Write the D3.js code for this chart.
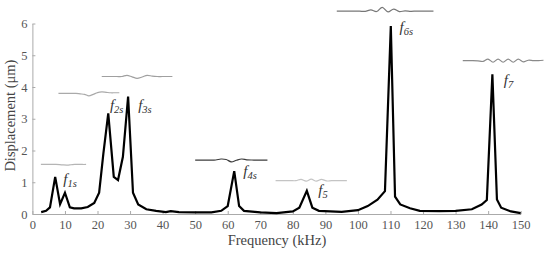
<!DOCTYPE html>
<html lang="en">
<head>
<meta charset="UTF-8">
<title>Displacement vs Frequency</title>
<script src="https://d3js.org/d3.v7.min.js"></script>
<style>
    body { margin: 0; background: #fff; }
    svg { display: block; }
    text { font-family: "Liberation Serif", "Times New Roman", serif; }
    .tick text { fill: #555; font-size: 12.5px; }
</style>
</head>
<body>
<svg width="550" height="255"></svg>
<script>
// frequency (kHz) and displacement (um)
const freq = [2.7, 4.2, 5.4, 7, 8.5, 10, 11.5, 12.8, 15, 17, 19, 20.5, 21.8, 23.3, 25, 26.3, 27.8, 29.4, 30.9, 32.5, 35, 38, 41, 42.5, 45, 50, 55, 58, 60, 62, 63.5, 65, 70, 75, 80, 82, 84.3, 86, 88, 95, 100, 103, 106, 108.3, 110.1, 111.4, 113, 116, 119, 125, 130, 135, 138, 139.6, 141.3, 142.7, 144, 147, 150];
const disp = [0.06, 0.1, 0.21, 1.17, 0.31, 0.67, 0.21, 0.18, 0.18, 0.22, 0.35, 0.67, 1.9, 3.17, 1.17, 1.07, 1.8, 3.7, 0.67, 0.3, 0.15, 0.1, 0.06, 0.09, 0.06, 0.05, 0.05, 0.1, 0.25, 1.35, 0.25, 0.1, 0.05, 0.03, 0.08, 0.2, 0.73, 0.2, 0.1, 0.07, 0.12, 0.25, 0.45, 0.72, 5.92, 0.55, 0.3, 0.18, 0.1, 0.09, 0.1, 0.15, 0.3, 0.44, 4.4, 0.46, 0.2, 0.08, 0.03];

const xTicks = d3.range(0, 151, 10);
const yTicks = [0, 1, 2, 3, 4, 5, 6];

// mode labels: name, subscript, anchor (kHz, um)
const modeNames = ["f", "f", "f", "f", "f", "f", "f"];
const modeSubs = ["1s", "2s", "3s", "4s", "5", "6s", "7"];
const modeLabelAt = [[9.5, 0.93], [23.8, 3.27], [32.5, 3.27], [64.8, 1.2], [87.8, 0.6], [112.8, 5.73], [144.8, 4.05]];

// mode-shape sketches: start/end kHz, level um, wave samples, stroke colour
const shapeFrom = [2.6, 8, 21.3, 50, 74.7, 93.5, 132.2];
const shapeTo = [16.5, 26.7, 43, 72.2, 96.6, 123.2, 157];
const shapeLevel = [1.56, 3.8, 4.33, 1.7, 1.05, 6.39, 4.83];
const shapeWave = [
    [0, 0, 0, 0, 0, 0.2, 0.5, 0.6, 0.3, 0, -0.1, 0, 0],
    [0, 0, 0, 0, 0, 0.5, 1, 2.5, 1, -0.8, -1.4, -1, -0.6, -0.6, -0.6],
    [0, 0, 0, 0, 0, -1.2, 0.3, 1.8, 0.5, -1.2, -0.4, 0, 0, 0, 0],
    [0, 0, 0, 0, 0, -1, -0.5, 1.8, 0.2, -1, -0.2, 0, 0, 0, 0],
    [0, 0, 0, 0, 0, -1.3, 0.5, -1.5, 0.5, -1.3, 0.3, 0, 0, 0, 0],
    [0, 0, 0, 0, 0, 0.3, -1.2, 0.4, -3.8, 0.8, -2, 0.5, -0.3, 0.2, 0, 0, 0, 0],
    [0, 0, 0, 0.2, 0.8, -1.6, 1.6, -1.6, 1.6, -1.6, 1.6, -1.6, 1.2, -0.4, 0, 0, -0.4]
];
const shapeColor = ["#b5b5b5", "#aaaaaa", "#a0a0a0", "#3c3c3c", "#c4c4c4", "#777777", "#8a8a8a"];

const svg = d3.select("svg");
const x = d3.scaleLinear().domain([0, 150]).range([32.4, 520.7]);
const y = d3.scaleLinear().domain([0, 6]).range([214, 23.5]);

// axes
const xAxis = svg.append("g")
    .attr("transform", `translate(0,${y(0)})`)
    .call(d3.axisBottom(x).tickValues(xTicks).tickSize(-3).tickPadding(6).tickSizeOuter(0));
const yAxis = svg.append("g")
    .attr("transform", `translate(${x(0)},0)`)
    .call(d3.axisLeft(y).tickValues(yTicks).tickFormat(d3.format("d")).tickSize(-3).tickPadding(5).tickSizeOuter(0));
[xAxis, yAxis].forEach(a => {
    a.attr("font-family", null).attr("font-size", null);
    a.select(".domain").attr("stroke", "#aaa");
    a.selectAll(".tick line").attr("stroke", "#aaa");
});

svg.append("text")
    .attr("x", 277).attr("y", 245)
    .attr("text-anchor", "middle")
    .attr("fill", "#444").attr("font-size", 14.5)
    .text("Frequency (kHz)");
svg.append("text")
    .attr("transform", `translate(15,${y(3.1)}) rotate(-90)`)
    .attr("text-anchor", "middle")
    .attr("fill", "#444").attr("font-size", 14.5)
    .text("Displacement (μm)");

// mode shape sketches
shapeWave.forEach((w, i) => {
    const step = (shapeTo[i] - shapeFrom[i]) / (w.length - 1);
    const pts = w.map((v, j) => [x(shapeFrom[i] + j * step), y(shapeLevel[i]) + v]);
    svg.append("path")
        .attr("d", d3.line().curve(d3.curveCatmullRom)(pts))
        .attr("fill", "none")
        .attr("stroke", shapeColor[i])
        .attr("stroke-width", 1.2);
});

// response curve
const pts = freq.map((f, i) => [f, disp[i]]);
svg.append("path")
    .datum(pts)
    .attr("fill", "none")
    .attr("stroke", "#000")
    .attr("stroke-width", 2.2)
    .attr("stroke-linejoin", "miter")
    .attr("d", d3.line().x(d => x(d[0])).y(d => y(d[1])));

// mode labels
modeNames.forEach((n, i) => {
    const t = svg.append("text")
        .attr("x", x(modeLabelAt[i][0]))
        .attr("y", y(modeLabelAt[i][1]))
        .attr("fill", "#333")
        .attr("font-style", "italic")
        .attr("font-size", 15);
    t.append("tspan").text(n);
    t.append("tspan").attr("dy", 3).attr("font-size", 10.5).text(modeSubs[i]);
});
</script>
</body>
</html>
